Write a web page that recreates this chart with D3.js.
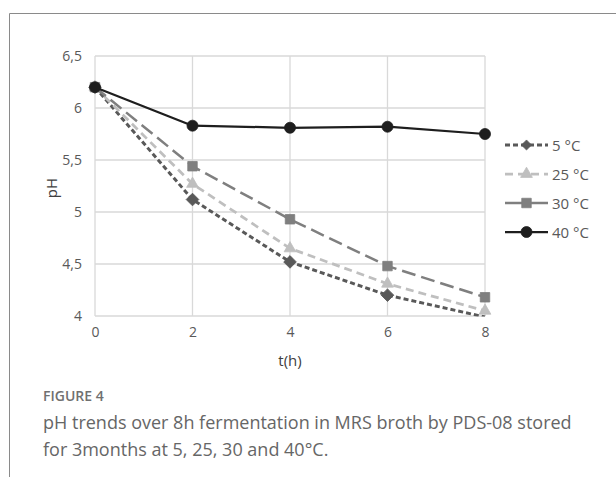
<!DOCTYPE html>
<html>
<head>
<meta charset="utf-8">
<script src="https://cdn.jsdelivr.net/npm/d3@7"></script>
<style>
  html, body { margin: 0; padding: 0; background: #fff; }
  svg { display: block; }
</style>
</head>
<body>
<svg id="chart" width="616" height="477"></svg>
<script>
// Sampling times (h) and pH readings for each storage temperature
const hours = [0, 2, 4, 6, 8];
const ph5 = [6.2, 5.12, 4.52, 4.20, 3.99];
const ph25 = [6.2, 5.27, 4.65, 4.31, 4.05];
const ph30 = [6.2, 5.44, 4.93, 4.48, 4.18];
const ph40 = [6.2, 5.83, 5.81, 5.82, 5.75];
const seriesNames = ["5 °C", "25 °C", "30 °C", "40 °C"];
const xTicks = [0, 2, 4, 6, 8];
const yTicks = [4, 4.5, 5, 5.5, 6, 6.5];

const styles = [
  { color: "#595959", dash: "5,3", width: 3, marker: "diamond" },
  { color: "#BFBFBF", dash: "8,5", width: 2.75, marker: "triangle" },
  { color: "#7F7F7F", dash: "14,6", width: 2.5, marker: "square" },
  { color: "#1E1E1E", dash: null, width: 2.25, marker: "circle" }
];
const seriesValues = [ph5, ph25, ph30, ph40];

const svg = d3.select("#chart");
const font = "'Open Sans', 'Noto Sans', sans-serif";

// Figure frame (top and left rules)
svg.append("line").attr("x1", 9.5).attr("x2", 616).attr("y1", 13.5).attr("y2", 13.5)
  .attr("stroke", "#8a8a8a").attr("stroke-width", 1);
svg.append("line").attr("x1", 9.5).attr("x2", 9.5).attr("y1", 13.5).attr("y2", 477)
  .attr("stroke", "#8a8a8a").attr("stroke-width", 1);

const plot = { left: 95, right: 485, top: 56, bottom: 316 };
const x = d3.scaleLinear().domain([0, 8]).range([plot.left, plot.right]);
const y = d3.scaleLinear().domain([4, 6.5]).range([plot.bottom, plot.top]);

// Gridlines
const grid = svg.append("g");
grid.selectAll("line.h").data(yTicks).join("line")
  .attr("x1", plot.left).attr("x2", plot.right)
  .attr("y1", d => y(d)).attr("y2", d => y(d))
  .attr("stroke", "#D9D9D9").attr("stroke-width", 1.3);
grid.selectAll("line.v").data(xTicks).join("line")
  .attr("x1", d => x(d)).attr("x2", d => x(d))
  .attr("y1", plot.top).attr("y2", plot.bottom)
  .attr("stroke", "#D9D9D9").attr("stroke-width", 1.3);

// Axes (tick labels only)
const fmt = d => String(d).replace(".", ",");
const yAxis = svg.append("g").attr("transform", `translate(${plot.left},0)`)
  .call(d3.axisLeft(y).tickValues(yTicks).tickFormat(fmt).tickSize(0).tickPadding(13));
yAxis.select(".domain").remove();
yAxis.selectAll("text").attr("font-family", font).attr("font-size", 14).attr("fill", "#595959");

const xAxis = svg.append("g").attr("transform", `translate(0,${plot.bottom})`)
  .call(d3.axisBottom(x).tickValues(xTicks).tickFormat(d3.format("d")).tickSize(0).tickPadding(11));
xAxis.select(".domain").remove();
xAxis.selectAll("text").attr("font-family", font).attr("font-size", 14).attr("fill", "#595959");

// Axis titles
svg.append("text").attr("x", x(4)).attr("y", 366).attr("text-anchor", "middle")
  .attr("font-family", font).attr("font-size", 15).attr("fill", "#404040").text("t(h)");
svg.append("text").attr("transform", `translate(57,${(plot.top + plot.bottom) / 2 + 2}) rotate(-90)`)
  .attr("text-anchor", "middle").attr("font-family", font).attr("font-size", 15)
  .attr("fill", "#404040").text("pH");

// Clip marks to the plot region
svg.append("defs").append("clipPath").attr("id", "plotClip")
  .append("rect").attr("x", plot.left - 8).attr("y", plot.top - 8)
  .attr("width", plot.right - plot.left + 16).attr("height", plot.bottom - plot.top + 8.5);

const symbolSize = { diamond: 80, triangle: 60, square: 90, circle: 95 };
function markerPath(kind) {
  const type = { diamond: d3.symbolSquare, triangle: d3.symbolTriangle,
                 square: d3.symbolSquare, circle: d3.symbolCircle }[kind];
  return d3.symbol().type(type).size(symbolSize[kind])();
}

const marks = svg.append("g").attr("clip-path", "url(#plotClip)");
const line = d3.line().x((d, i) => x(hours[i])).y(d => y(d));

seriesValues.forEach((vals, si) => {
  const st = styles[si];
  const g = marks.append("g");
  g.append("path").datum(vals).attr("d", line)
    .attr("fill", "none").attr("stroke", st.color).attr("stroke-width", st.width)
    .attr("stroke-dasharray", st.dash).attr("stroke-linejoin", "round");
  const pts = vals.map((v, i) => ({ t: hours[i], v })).filter(p => p.v >= 4);
  g.selectAll("path.m").data(pts).join("path")
    .attr("d", markerPath(st.marker))
    .attr("transform", p => `translate(${x(p.t)},${y(p.v)})` + (st.marker === "diamond" ? " rotate(45)" : ""))
    .attr("fill", st.color).attr("stroke", st.color).attr("stroke-width", 0.8);
});

// Legend
const legend = svg.append("g");
const legendY = [145, 174, 203, 232];
seriesNames.forEach((name, i) => {
  const st = styles[i];
  const gy = legendY[i];
  const lg = legend.append("g");
  lg.append("line").attr("x1", 505).attr("x2", 548).attr("y1", gy).attr("y2", gy)
    .attr("stroke", st.color).attr("stroke-width", st.width)
    .attr("stroke-dasharray", st.marker === "square" || st.marker === "circle" ? null : st.dash);
  lg.append("path").attr("d", markerPath(st.marker))
    .attr("transform", `translate(526.5,${gy})` + (st.marker === "diamond" ? " rotate(45) scale(0.8)" : ""))
    .attr("fill", st.color).attr("stroke", st.color).attr("stroke-width", 0.8);
  lg.append("text").attr("x", 552).attr("y", gy + 5.5).attr("font-family", font)
    .attr("font-size", 15).attr("fill", "#595959").text(name);
});

// Caption
svg.append("text").attr("x", 43).attr("y", 401).attr("font-family", font)
  .attr("font-size", 14).attr("font-weight", 600).attr("fill", "#707070").text("FIGURE 4");
svg.append("text").attr("x", 43).attr("y", 429).attr("font-family", font)
  .attr("font-size", 18).attr("fill", "#666").text("pH trends over 8h fermentation in MRS broth by PDS-08 stored");
svg.append("text").attr("x", 43).attr("y", 456).attr("font-family", font)
  .attr("font-size", 18).attr("fill", "#666").text("for 3months at 5, 25, 30 and 40°C.");
</script>
</body>
</html>
